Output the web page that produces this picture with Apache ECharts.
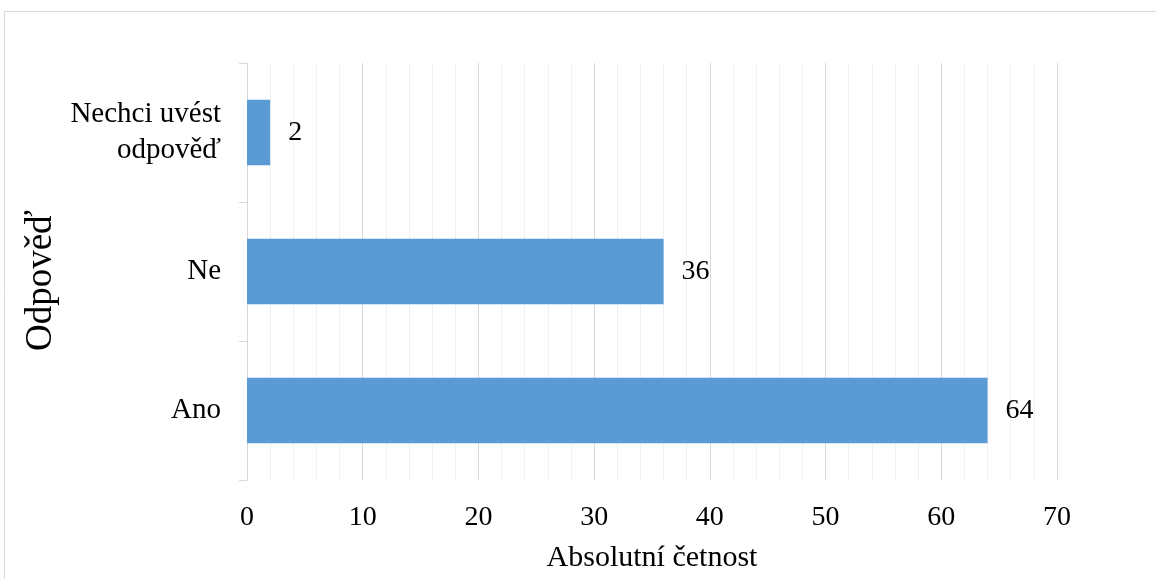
<!DOCTYPE html>
<html>
<head>
<meta charset="utf-8">
<script src="https://cdn.jsdelivr.net/npm/echarts@6/dist/echarts.min.js"></script>
<style>
  html, body { margin: 0; padding: 0; background: #fff; }
  #chart { width: 1156px; height: 579px; }
</style>
</head>
<body>
<div id="chart"></div>
<script>
// Answer categories (bottom to top) and their absolute counts
const categories = ['Ano', 'Ne', 'Nechci uvést\nodpověď'];
const counts = [64, 36, 2];
const xMin = 0;
const xMax = 70;
const xStep = 10;

const font = "'Liberation Serif', 'Times New Roman', serif";
const chart = echarts.init(document.getElementById('chart'));

chart.setOption({
  backgroundColor: '#ffffff',
  animation: false,
  graphic: [{
    type: 'rect',
    shape: { x: 4.5, y: 11.5, width: 1200, height: 600 },
    style: { fill: 'none', stroke: '#d9d9d9', lineWidth: 1 },
    silent: true
  }],
  grid: { left: 247, right: 99, top: 63, bottom: 99, containLabel: false },
  xAxis: {
    type: 'value',
    min: xMin,
    max: xMax,
    interval: xStep,
    name: 'Absolutní četnost',
    nameLocation: 'middle',
    nameGap: 63,
    nameTextStyle: { fontFamily: font, fontSize: 30, color: '#000' },
    axisLine: { show: false },
    axisTick: { show: false },
    axisLabel: { fontFamily: font, fontSize: 28, color: '#000', margin: 24 },
    splitLine: { show: true, lineStyle: { color: '#d9d9d9', width: 1 } },
    minorTick: { show: false, splitNumber: 5 },
    minorSplitLine: { show: true, lineStyle: { color: '#f0f0f0', width: 1 } }
  },
  yAxis: {
    type: 'category',
    data: categories,
    name: 'Odpověď',
    nameLocation: 'middle',
    nameRotate: 90,
    nameGap: 184,
    nameTextStyle: { fontFamily: font, fontSize: 37, color: '#000', padding: [0, 18, 0, 0] },
    axisLine: { show: true, lineStyle: { color: '#d9d9d9', width: 1 } },
    axisTick: { show: true, length: 8, lineStyle: { color: '#d9d9d9' } },
    axisLabel: { fontFamily: font, fontSize: 29, color: '#000', margin: 26, lineHeight: 36 },
    splitLine: { show: false }
  },
  series: [{
    type: 'bar',
    data: counts,
    barWidth: '47%',
    itemStyle: { color: '#5b9bd5' },
    label: {
      show: true,
      position: 'right',
      distance: 18,
      fontFamily: font,
      fontSize: 28,
      color: '#000'
    }
  }]
});
</script>
</body>
</html>
